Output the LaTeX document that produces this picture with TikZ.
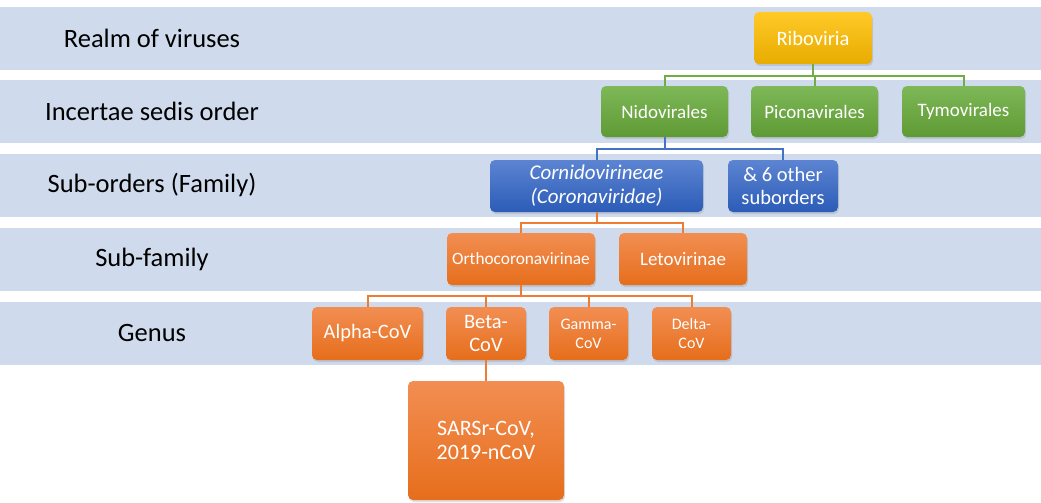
\documentclass[tikz,border=0pt]{standalone}
\usepackage{fontspec}
\setmainfont{Carlito}
\usetikzlibrary{shadows}
\definecolor{bandblue}{RGB}{207,219,236}
\definecolor{goldtop}{RGB}{255,201,40}
\definecolor{goldbot}{RGB}{232,172,0}
\definecolor{greentop}{RGB}{126,184,88}
\definecolor{greenbot}{RGB}{94,154,52}
\definecolor{bluetop}{RGB}{92,132,210}
\definecolor{bluebot}{RGB}{44,92,184}
\definecolor{orangetop}{RGB}{242,142,82}
\definecolor{orangebot}{RGB}{230,110,28}
\definecolor{greenline}{RGB}{112,173,71}
\definecolor{blueline}{RGB}{68,114,196}
\definecolor{orangeline}{RGB}{237,125,49}
\tikzset{
    band/.style={fill=bandblue, draw=none},
    rank/.style={font=\fontsize{26.5}{30}\selectfont, text=black},
    taxon/.style={rounded corners=5pt, text=white, align=center, inner sep=0pt,
        font=\fontsize{19}{21}\selectfont,
        drop shadow={opacity=0.25, shadow xshift=1pt, shadow yshift=-2pt}},
    big/.style={font=\fontsize{20.5}{23.5}\selectfont},
    small/.style={font=\fontsize{16}{19}\selectfont},
    gold/.style={taxon, top color=goldtop, bottom color=goldbot},
    green/.style={taxon, top color=greentop, bottom color=greenbot},
    blue/.style={taxon, top color=bluetop, bottom color=bluebot},
    orange/.style={taxon, top color=orangetop, bottom color=orangebot},
    link/.style={line width=2pt}
}
\begin{document}
\begin{tikzpicture}[x=1pt, y=-1pt]
    \useasboundingbox (0,0) rectangle (1041,503);

    % Bandes des rangs
    \foreach \top in {7,80,154,228,302}
        \fill[band] (0,\top) rectangle (1041,\top+63);

    % Rangs
    \node[rank] (realm) at (152,38) {Realm of viruses};
    \node[rank] (order) at (152,111) {Incertae sedis order};
    \node[rank] (suborder) at (152,185) {Sub-orders (Family)};
    \node[rank] (subfam) at (152,259) {Sub-family};
    \node[rank] (genus) at (152,333) {Genus};

    % Royaume
    \node[gold, big, minimum width=118, minimum height=52] (riboviria) at (813,38) {Riboviria};

    % Ordres
    \node[green, minimum width=127, minimum height=51] (nido) at (664.5,111.5) {Nidovirales};
    \node[green, minimum width=127, minimum height=51] (picona) at (814.5,111.5) {Piconavirales};
    \node[green, minimum width=123, minimum height=51] (tymo) at (963.5,111.5) {Tymovirales};

    % Sous-ordres
    \node[blue, font=\fontsize{21}{24}\selectfont, minimum width=213, minimum height=52] (cornido) at (596.5,186) {\itshape Cornidovirineae\\\itshape (Coronaviridae)};
    \node[blue, big, minimum width=110, minimum height=52] (other) at (783,186) {\& 6 other\\suborders};

    % Sous-familles
    \node[orange, minimum width=148, minimum height=52, font=\fontsize{17.3}{20}\selectfont] (ortho) at (521,259) {Orthocoronavirinae};
    \node[orange, minimum width=128, minimum height=52] (leto) at (683,259) {Letovirinae};

    % Genres
    \node[orange, big, minimum width=111, minimum height=53] (alpha) at (367.5,333.5) {Alpha-CoV};
    \node[orange, big, minimum width=80, minimum height=53] (beta) at (486,333.5) {Beta-\\CoV};
    \node[orange, small, minimum width=79, minimum height=53] (gamma) at (588.5,333.5) {Gamma-\\CoV};
    \node[orange, small, minimum width=79, minimum height=53] (delta) at (691.5,333.5) {Delta-\\CoV};

    % Espece
    \node[orange, minimum width=156, minimum height=119, font=\fontsize{22}{24}\selectfont] (sars) at (486,440.5) {SARSr-CoV,\\2019-nCoV};

    % Liaisons
    \foreach \child in {nido,picona,tymo}
        \draw[link, greenline] (riboviria.south) -- ++(0,12) -| (\child.north);
    \foreach \child in {cornido,other}
        \draw[link, blueline] (nido.south) -- ++(0,12) -| (\child.north);
    \foreach \child in {ortho,leto}
        \draw[link, orangeline] (cornido.south) -- ++(0,11) -| (\child.north);
    \foreach \child in {alpha,beta,gamma,delta}
        \draw[link, orangeline] (ortho.south) -- ++(0,11) -| (\child.north);
    \draw[link, orangeline] (beta.south) -- (sars.north);
\end{tikzpicture}
\end{document}
